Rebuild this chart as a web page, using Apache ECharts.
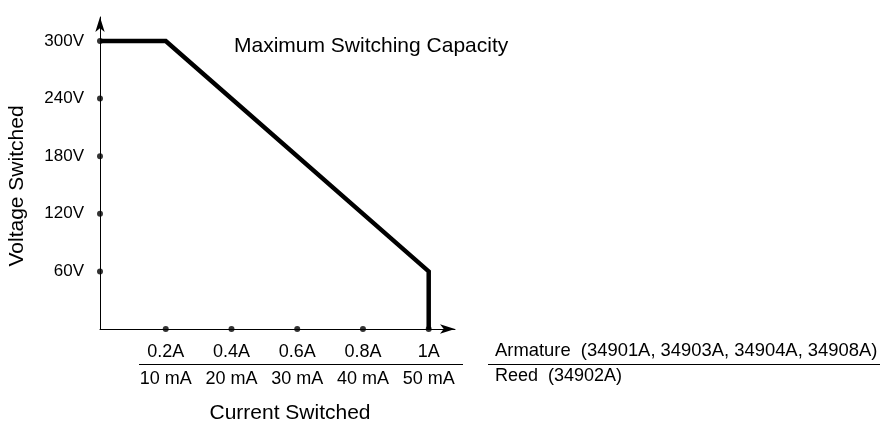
<!DOCTYPE html>
<html>
<head>
<meta charset="utf-8">
<script src="https://cdn.jsdelivr.net/npm/echarts@6/dist/echarts.min.js"></script>
<style>
  html, body { margin: 0; padding: 0; background: #fff; }
  #chart { width: 883px; height: 421px; }
</style>
</head>
<body>
<div id="chart"></div>
<script>
// tick values and labels
var voltTicks = [60, 120, 180, 240, 300];
var currentTicks = [0.2, 0.4, 0.6, 0.8, 1.0];
var armatureLabels = ['0.2A', '0.4A', '0.6A', '0.8A', '1A'];
var reedLabels = ['10 mA', '20 mA', '30 mA', '40 mA', '50 mA'];
// maximum switching capacity curve
var curveCurrent = [0, 0.2, 1.0, 1.0];
var curveVoltage = [300, 300, 60, 0];

var FONT = '"Liberation Sans", Arial, sans-serif';

function findTick(list, v) {
  for (var i = 0; i < list.length; i++) {
    if (Math.abs(list[i] - v) < 1e-6) return i;
  }
  return -1;
}

var curveData = curveCurrent.map(function (c, i) { return [c, curveVoltage[i]]; });
var dotData = voltTicks.map(function (v) { return [0, v]; })
  .concat(currentTicks.map(function (c) { return [c, 0]; }));

var chart = echarts.init(document.getElementById('chart'));
chart.setOption({
  animation: false,
  backgroundColor: '#fff',
  grid: { left: 100, right: 428, top: 17, bottom: 92 },
  xAxis: {
    type: 'value',
    min: 0,
    max: 1.08,
    interval: 0.2,
    splitLine: { show: false },
    axisTick: { show: false },
    axisLine: {
      lineStyle: { color: '#000', width: 1 },
      symbol: ['none', 'arrow'],
      symbolSize: [7, 15]
    },
    axisLabel: {
      margin: 10,
      fontFamily: FONT,
      fontSize: 18,
      color: '#000',
      lineHeight: 27,
      formatter: function (v) {
        var i = findTick(currentTicks, v);
        return i < 0 ? '' : armatureLabels[i] + '\n' + reedLabels[i];
      }
    }
  },
  yAxis: {
    type: 'value',
    min: 0,
    max: 325,
    interval: 60,
    splitLine: { show: false },
    axisTick: { show: false },
    axisLine: {
      lineStyle: { color: '#000', width: 1 },
      symbol: ['none', 'arrow'],
      symbolSize: [7, 15]
    },
    axisLabel: {
      margin: 16,
      fontFamily: FONT,
      fontSize: 17,
      color: '#000',
      formatter: function (v) {
        return findTick(voltTicks, v) < 0 ? '' : v + 'V';
      }
    }
  },
  series: [
    {
      type: 'line',
      data: curveData,
      symbol: 'none',
      lineStyle: { color: '#000', width: 4.5, join: 'miter', cap: 'butt' },
      z: 3
    },
    {
      type: 'scatter',
      data: dotData,
      symbol: 'circle',
      symbolSize: 6,
      itemStyle: { color: '#000' },
      clip: false,
      z: 4
    }
  ],
  graphic: [
    { type: 'text', x: 234, y: 46, style: { text: 'Maximum Switching Capacity', font: '21px ' + FONT, fill: '#000', verticalAlign: 'middle' } },
    { type: 'text', x: 17, y: 186, rotation: Math.PI / 2, style: { text: 'Voltage Switched', font: '21px ' + FONT, fill: '#000', align: 'center', verticalAlign: 'middle' } },
    { type: 'text', x: 290, y: 413, style: { text: 'Current Switched', font: '21px ' + FONT, fill: '#000', align: 'center', verticalAlign: 'middle' } },
    { type: 'line', shape: { x1: 139, y1: 364.5, x2: 463, y2: 364.5 }, style: { stroke: '#000', lineWidth: 1 } },
    { type: 'text', x: 495, y: 351, style: { text: 'Armature  (34901A, 34903A, 34904A, 34908A)', font: '18.4px ' + FONT, fill: '#000', verticalAlign: 'middle' } },
    { type: 'line', shape: { x1: 488, y1: 364.5, x2: 880, y2: 364.5 }, style: { stroke: '#000', lineWidth: 1 } },
    { type: 'text', x: 495, y: 376, style: { text: 'Reed  (34902A)', font: '18px ' + FONT, fill: '#000', verticalAlign: 'middle' } }
  ]
});
</script>
</body>
</html>
